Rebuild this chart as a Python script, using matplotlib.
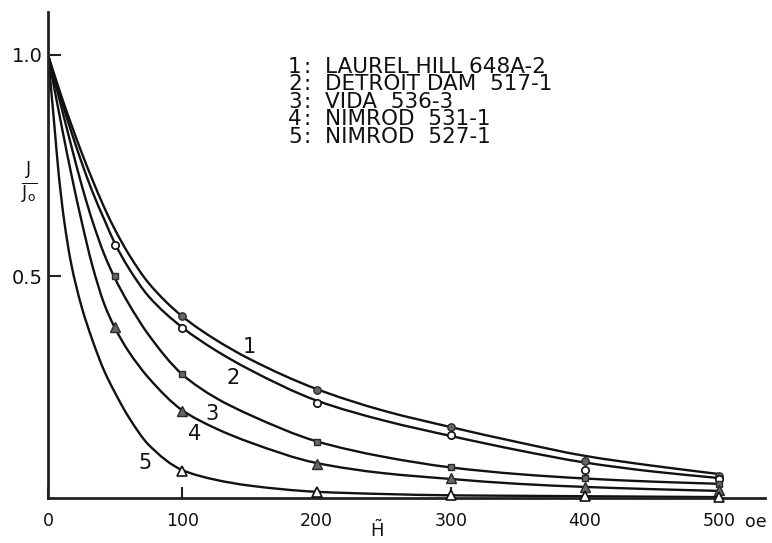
import matplotlib
matplotlib.use("Agg")
import matplotlib.pyplot as plt
import numpy as np
from matplotlib.path import Path
from matplotlib.patches import PathPatch

# ---------------- data ----------------
H_curve = [0, 2, 5, 8, 12, 17, 25, 33, 42, 50, 60, 75, 100, 125, 150,
           200, 250, 300, 350, 400, 450, 500]
curve1 = [1.0, 0.981, 0.953, 0.925, 0.889, 0.846, 0.780, 0.719, 0.655, 0.605, 0.551,
          0.485, 0.41, 0.357, 0.314, 0.246, 0.197, 0.16, 0.126, 0.095, 0.073, 0.054]
curve2 = [1.0, 0.979, 0.948, 0.918, 0.878, 0.830, 0.758, 0.692, 0.628, 0.5735, 0.5195,
          0.455, 0.385, 0.333, 0.29, 0.22, 0.175, 0.14, 0.108, 0.08, 0.06, 0.045]
curve3 = [1.0, 0.976, 0.941, 0.906, 0.858, 0.799, 0.707, 0.626, 0.549, 0.495, 0.439,
          0.368, 0.279, 0.226, 0.188, 0.128, 0.093, 0.069, 0.054, 0.044, 0.037, 0.032]
curve4 = [1.0, 0.968, 0.92, 0.873, 0.811, 0.736, 0.625, 0.525, 0.437, 0.383, 0.331,
          0.271, 0.198, 0.157, 0.126, 0.079, 0.056, 0.043, 0.032, 0.025, 0.02, 0.016]
curve5 = [1.0, 0.934, 0.832, 0.73, 0.627, 0.533, 0.432, 0.357, 0.286, 0.237, 0.183,
          0.12, 0.063, 0.041, 0.028, 0.014, 0.009, 0.006, 0.005, 0.004, 0.003, 0.002]

H_pts1 = [100, 200, 300, 400, 500]
J_pts1 = [0.41, 0.244, 0.16, 0.084, 0.05]
H_pts2 = [50, 100, 200, 300, 400, 500]
J_pts2 = [0.572, 0.383, 0.215, 0.143, 0.063, 0.043]
H_pts3 = [50, 100, 200, 300, 400, 500]
J_pts3 = [0.502, 0.28, 0.126, 0.07, 0.045, 0.032]
H_pts4 = [50, 100, 200, 300, 400, 500]
J_pts4 = [0.385, 0.197, 0.077, 0.045, 0.025, 0.018]
H_pts5 = [100, 200, 300, 400, 500]
J_pts5 = [0.062, 0.014, 0.006, 0.004, 0.003]

curve_ids = ["1", "2", "3", "4", "5"]
sample_names = ["LAUREL HILL 648A-2", "DETROIT DAM  517-1", "VIDA  536-3",
                "NIMROD  531-1", "NIMROD  527-1"]
x_ticks = [0, 100, 200, 300, 400, 500]
x_ticklabels = ["0", "100", "200", "300", "400", "500"]
y_ticks = [0.5, 1.0]
y_ticklabels = ["0.5", "1.0"]


def smooth_path(xs, ys):
    """Monotone cubic (Fritsch-Carlson) drawn as Bezier segments through the points."""
    x = np.asarray(xs, float)
    y = np.asarray(ys, float)
    h = np.diff(x)
    d = np.diff(y) / h
    m = np.zeros_like(x)
    m[0], m[-1] = d[0], d[-1]
    for i in range(1, len(x) - 1):
        if d[i - 1] * d[i] <= 0:
            m[i] = 0.0
        else:
            w1 = 2 * h[i] + h[i - 1]
            w2 = h[i] + 2 * h[i - 1]
            m[i] = (w1 + w2) / (w1 / d[i - 1] + w2 / d[i])
    verts = [(x[0], y[0])]
    codes = [Path.MOVETO]
    for i in range(len(x) - 1):
        verts += [(x[i] + h[i] / 3, y[i] + m[i] * h[i] / 3),
                  (x[i + 1] - h[i] / 3, y[i + 1] - m[i + 1] * h[i] / 3),
                  (x[i + 1], y[i + 1])]
        codes += [Path.CURVE4] * 3
    return Path(verts, codes)


# ---------------- figure ----------------
W, Hh = 772, 543
fig = plt.figure(figsize=(W / 100, Hh / 100), dpi=100)
fig.patch.set_facecolor("white")
ax = fig.add_axes([48 / W, 1 - 498 / Hh, (765 - 48) / W, (498 - 12) / Hh])
ax.set_xlim(0, 534)
ax.set_ylim(0, 1.097)

for s in ["top", "right"]:
    ax.spines[s].set_visible(False)
for s in ["left", "bottom"]:
    ax.spines[s].set_linewidth(2.0)
    ax.spines[s].set_color("#222222")

lc = "#111111"
lw = 1.7
for c in [curve1, curve2, curve3, curve4, curve5]:
    ax.add_patch(PathPatch(smooth_path(H_curve, c), fill=False, edgecolor=lc,
                           lw=lw, capstyle="round", joinstyle="round", zorder=2))

fill = "#666666"
edge = "#2a2a2a"
ax.plot(H_pts1, J_pts1, "o", ms=5.3, mfc=fill, mec=edge, mew=1.0, zorder=4, clip_on=False)
ax.plot(H_pts2, J_pts2, "o", ms=5.3, mfc="white", mec=lc, mew=1.2, zorder=4, clip_on=False)
ax.plot(H_pts3, J_pts3, "s", ms=4.8, mfc=fill, mec=edge, mew=1.0, zorder=4, clip_on=False)
ax.plot(H_pts4, J_pts4, "^", ms=7, mfc=fill, mec=edge, mew=1.0, zorder=4, clip_on=False)
ax.plot(H_pts5, J_pts5, "^", ms=7, mfc="white", mec=lc, mew=1.2, zorder=4, clip_on=False)

# ticks
ax.set_xticks(x_ticks)
ax.set_xticklabels(x_ticklabels, fontsize=12.5, color="#111111")
ax.set_yticks(y_ticks)
ax.set_yticklabels(y_ticklabels, fontsize=14, color="#111111")
ax.tick_params(axis="x", direction="in", length=8, width=1.5, pad=10, color="#222222")
ax.tick_params(axis="y", direction="in", length=9, width=1.5, pad=4, color="#222222")

# curve number labels
label_pos = [(150, 0.34), (138, 0.27), (122, 0.19), (109, 0.145), (72, 0.08)]
for cid, (lx, ly) in zip(curve_ids, label_pos):
    ax.text(lx, ly, cid, fontsize=15, ha="center", va="center", color="#111111")

# legend block: three columns of multi-line text
legend_fs = 15.5
ls = 0.84
ytop = 1 - 57 / Hh
fig.text(288 / W, ytop, "\n".join(curve_ids), fontsize=legend_fs, ha="left", va="top",
         linespacing=ls, color="#111111")
fig.text(304 / W, ytop, "\n".join([":"] * len(curve_ids)), fontsize=legend_fs, ha="left",
         va="top", linespacing=ls, color="#111111")
fig.text(325 / W, ytop, "\n".join(sample_names), fontsize=legend_fs, ha="left", va="top",
         linespacing=ls, color="#111111")

# axis labels
fig.text(29 / W, 1 - 183 / Hh, r"$\frac{\mathrm{J}}{\mathrm{J_o}}$", fontsize=18,
         ha="center", va="center", color="#111111")
fig.text(377 / W, 1 - 530 / Hh, r"$\tilde{\mathrm{H}}$", fontsize=13,
         ha="center", va="center", color="#111111")
fig.text(745 / W, 1 - 527 / Hh, "oe", fontsize=12.5, ha="left", va="baseline",
         color="#111111")

fig.savefig("out.png", dpi=100, facecolor="white")
